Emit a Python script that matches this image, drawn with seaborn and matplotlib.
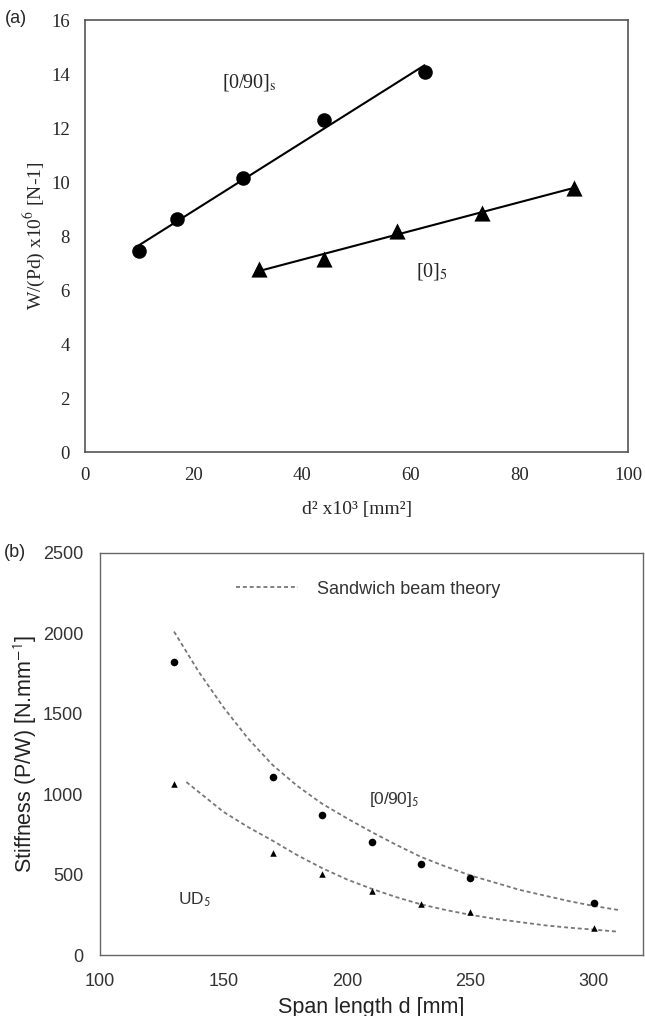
import numpy as np
import pandas as pd
import matplotlib
matplotlib.use("Agg")
import matplotlib.pyplot as plt
import seaborn as sns

# panel (a) data: W/(Pd) vs d^2
d2_090 = [10, 17, 29, 44, 62.5]
w_090 = [7.45, 8.65, 10.15, 12.3, 14.1]
d2_0 = [32, 44, 57.5, 73, 90]
w_0 = [6.8, 7.15, 8.2, 8.85, 9.8]

# panel (b) data: stiffness vs span length
span = [130, 170, 190, 210, 230, 250, 300]
stiff_090 = [1820, 1105, 870, 700, 565, 480, 325]
stiff_ud = [1060, 635, 505, 400, 315, 265, 165]

# sandwich beam theory curves
theory_d_090 = [130, 140, 150, 160, 170, 180, 190, 200, 210, 220, 230, 240, 250, 260, 270, 280, 290, 300, 310]
theory_090 = [2010, 1760, 1540, 1345, 1180, 1050, 940, 850, 765, 685, 610, 550, 495, 450, 405, 370, 335, 305, 280]
theory_d_ud = [135, 150, 160, 170, 180, 190, 200, 210, 220, 230, 240, 250, 260, 270, 280, 290, 300, 310]
theory_ud = [1075, 890, 795, 710, 620, 540, 470, 412, 360, 315, 280, 250, 225, 205, 185, 170, 158, 145]

sns.set_style("white")
plt.rcParams["mathtext.fontset"] = "stix"

fig = plt.figure(figsize=(6.45, 10.16), dpi=100)
ax1 = fig.add_axes([0.132, 0.555, 0.842, 0.425])
ax2 = fig.add_axes([0.155, 0.060, 0.842, 0.396])

# ---------- panel (a) ----------
serif = "Liberation Serif"
for xs, ys in [(d2_090, w_090), (d2_0, w_0)]:
    k, b = np.polyfit(xs, ys, 1)
    fit = pd.DataFrame({"x": [xs[0], xs[-1]]})
    fit["y"] = k * fit["x"] + b
    sns.lineplot(data=fit, x="x", y="y", ax=ax1, color="black", lw=1.5)

sns.scatterplot(x=d2_090, y=w_090, ax=ax1, marker="o", s=110, color="black", linewidth=0, zorder=3)
sns.scatterplot(x=d2_0, y=w_0, ax=ax1, marker="^", s=135, color="black", linewidth=0, zorder=3)

ax1.set_xlim(0, 100)
ax1.set_ylim(0, 16)
ax1.set_xticks(range(0, 101, 20))
ax1.set_yticks(range(0, 17, 2))
ax1.tick_params(length=0, labelsize=13.5, pad=11)
for lab in ax1.get_xticklabels() + ax1.get_yticklabels():
    lab.set_fontfamily(serif)
ax1.set_xlabel("d² x10³ [mm²]", fontsize=14, family=serif, labelpad=12)
ax1.set_ylabel(r"W/(Pd) x10$^{6}$ [N-1]", fontsize=14, family=serif, labelpad=3)
for sp in ax1.spines.values():
    sp.set_color("#555555")
    sp.set_linewidth(1.2)
ax1.text(25.2, 13.7, r"[0/90]$_{\rm s}$", fontsize=14.5, family=serif, va="center")
ax1.text(61, 6.7, r"[0]$_{5}$", fontsize=14.5, family=serif, va="center")
fig.text(0.008, 0.982, "(a)", fontsize=13, family="Liberation Sans", va="center")

# ---------- panel (b) ----------
sans = "Liberation Sans"
dash = (0, (2.2, 1.6))
sns.lineplot(x=theory_d_090, y=theory_090, ax=ax2, color="#777777", lw=1.3,
             linestyle=dash, label="Sandwich beam theory")
sns.lineplot(x=theory_d_ud, y=theory_ud, ax=ax2, color="#777777", lw=1.3,
             linestyle=dash)
sns.scatterplot(x=span, y=stiff_090, ax=ax2, marker="o", s=30, color="black", linewidth=0, zorder=3)
sns.scatterplot(x=span, y=stiff_ud, ax=ax2, marker="^", s=22, color="black", linewidth=0, zorder=3)

ax2.set_xlim(100, 320)
ax2.set_ylim(0, 2500)
ax2.set_xticks(range(100, 301, 50))
ax2.set_yticks(range(0, 2501, 500))
ax2.tick_params(axis="y", length=0, labelsize=13, labelcolor="#333333", pad=12)
ax2.tick_params(axis="x", length=0, labelsize=13, labelcolor="#333333", pad=13)
for lab in ax2.get_xticklabels() + ax2.get_yticklabels():
    lab.set_fontfamily(sans)
ax2.set_xlabel("Span length d [mm]", fontsize=15.5, family=sans, color="#222222", labelpad=5)
ax2.set_ylabel(r"Stiffness (P/W) [N.mm$^{\mathsf{-1}}$]", fontsize=15.5, family=sans, color="#222222", labelpad=3)
for sp in ax2.spines.values():
    sp.set_color("#666666")
    sp.set_linewidth(1.0)
leg = ax2.legend(loc="center", bbox_to_anchor=(0.494, 0.909), frameon=False,
                 handlelength=3.4, handletextpad=1.05, prop={"family": sans, "size": 13})
for t in leg.get_texts():
    t.set_color("#333333")
ax2.text(209, 965, r"[0/90]$_{\mathsf{5}}$", fontsize=12.5, family=sans, color="#333333", va="center")
ax2.text(131.5, 342, r"UD$_{\mathsf{5}}$", fontsize=12.5, family=sans, color="#333333", va="center")
fig.text(0.006, 0.456, "(b)", fontsize=13, family=sans, va="center")

fig.savefig("out.png", dpi=100)
